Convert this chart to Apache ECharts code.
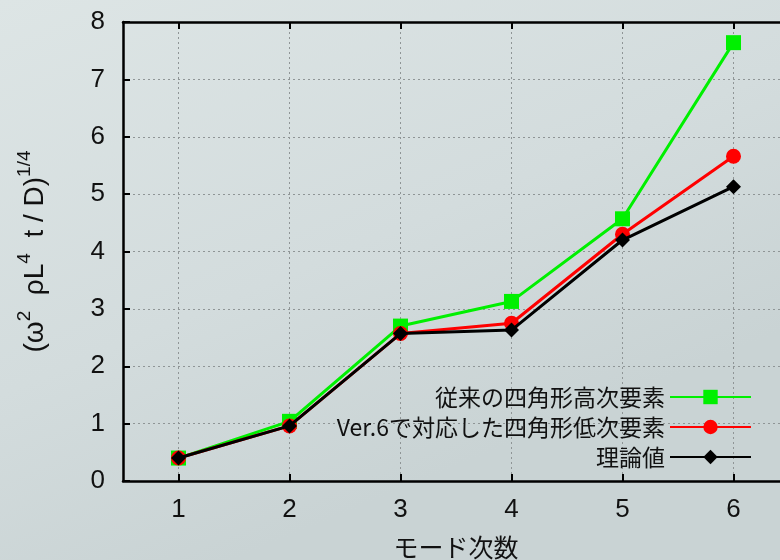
<!DOCTYPE html>
<html>
<head>
<meta charset="utf-8">
<script src="https://cdn.jsdelivr.net/npm/echarts@6/dist/echarts.min.js"></script>
<style>
  html, body { margin: 0; padding: 0; }
  #chart { width: 780px; height: 560px; }
</style>
</head>
<body>
<div id="chart"></div>
<script>
// Mode numbers on the horizontal axis
const modes = [1, 2, 3, 4, 5, 6];

// Series labels
const seriesNames = ['従来の四角形高次要素', 'Ver.6で対応した四角形低次要素', '理論値'];

// Normalised natural frequency (ω² ρL⁴ t / D)^(1/4) for each mode
const highOrderQuad = [0.40, 1.04, 2.70, 3.13, 4.57, 7.64];
const lowOrderQuadV6 = [0.40, 0.96, 2.57, 2.75, 4.30, 5.66];
const theory = [0.40, 0.96, 2.57, 2.63, 4.20, 5.13];

const yTicks = [0, 1, 2, 3, 4, 5, 6, 7, 8];

const pairs = (vals) => modes.map((m, i) => [m, vals[i]]);

const numFont = '"Liberation Sans", Arial, sans-serif';
const jpFont = '"Noto Sans CJK JP", sans-serif';

const chart = echarts.init(document.getElementById('chart'), null, { renderer: 'canvas' });

const axisLine = { show: true, lineStyle: { color: '#000', width: 2.5 } };
const innerTick = { show: true, inside: true, length: 7, lineStyle: { color: '#000', width: 2 } };
const dotted = { show: true, lineStyle: { color: '#8f9596', width: 1, type: [2, 3] } };

chart.setOption({
  backgroundColor: {
    type: 'linear', x: 0, y: 0, x2: 0.3, y2: 1,
    colorStops: [
      { offset: 0, color: '#dde5e5' },
      { offset: 0.6, color: '#d3dcdd' },
      { offset: 1, color: '#c9d3d4' }
    ]
  },
  animation: false,
  // the frame runs past the right edge, so its width is fixed explicitly
  grid: { left: 123, top: 22, width: 666, height: 459, containLabel: false, outerBoundsMode: 'none' },
  legend: {
    orient: 'vertical',
    align: 'right',
    right: 23,
    top: 380,
    itemWidth: 81,
    itemHeight: 18,
    itemGap: 6,
    data: seriesNames,
    textStyle: { fontFamily: jpFont, fontSize: 23, color: '#111', lineHeight: 24 }
  },
  xAxis: [
    {
      type: 'value',
      min: 0.5,
      max: 6.5,
      position: 'bottom',
      axisLine: axisLine,
      axisTick: Object.assign({ customValues: modes }, innerTick),
      axisLabel: {
        customValues: modes,
        margin: 16,
        fontFamily: numFont,
        fontSize: 26,
        color: '#111'
      },
      splitLine: dotted,
      name: 'モード次数',
      nameLocation: 'middle',
      nameGap: 54,
      nameTextStyle: { fontFamily: jpFont, fontSize: 25, color: '#111' }
    },
    {
      type: 'value',
      min: 0.5,
      max: 6.5,
      position: 'top',
      axisLine: axisLine,
      axisTick: Object.assign({ customValues: modes }, innerTick),
      axisLabel: { show: false },
      splitLine: { show: false }
    }
  ],
  yAxis: {
    type: 'value',
    min: yTicks[0],
    max: yTicks[yTicks.length - 1],
    interval: 1,
    axisLine: axisLine,
    axisTick: innerTick,
    axisLabel: { margin: 18, fontFamily: numFont, fontSize: 26, color: '#111' },
    splitLine: dotted,
    name: '(ω{sup|2}  ρL{sup|4}  t / D){sup|1/4}',
    nameLocation: 'middle',
    nameRotate: 90,
    nameGap: 68,
    nameTextStyle: {
      fontFamily: numFont,
      fontSize: 28,
      color: '#111',
      lineHeight: 40,
      rich: {
        sup: { fontFamily: numFont, fontSize: 19, color: '#111', verticalAlign: 'top', lineHeight: 40, padding: [0, 0, 18, 0] }
      }
    }
  },
  series: [
    {
      name: seriesNames[0],
      type: 'line',
      data: pairs(highOrderQuad),
      symbol: 'rect',
      symbolSize: 15,
      lineStyle: { color: '#00f000', width: 3 },
      itemStyle: { color: '#00f000' },
      z: 2
    },
    {
      name: seriesNames[1],
      type: 'line',
      data: pairs(lowOrderQuadV6),
      symbol: 'circle',
      symbolSize: 15,
      lineStyle: { color: '#ff0000', width: 3 },
      itemStyle: { color: '#ff0000' },
      z: 3
    },
    {
      name: seriesNames[2],
      type: 'line',
      data: pairs(theory),
      symbol: 'diamond',
      symbolSize: 15,
      lineStyle: { color: '#000000', width: 3 },
      itemStyle: { color: '#000000' },
      z: 4
    }
  ]
});
</script>
</body>
</html>
